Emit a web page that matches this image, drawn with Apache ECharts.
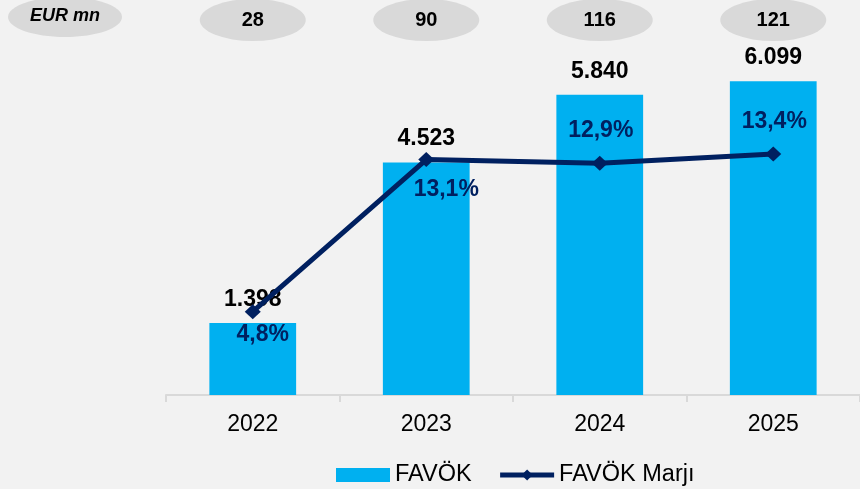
<!DOCTYPE html>
<html>
<head>
<meta charset="utf-8">
<script src="https://cdn.jsdelivr.net/npm/echarts@6/dist/echarts.min.js"></script>
<style>
  html, body { margin: 0; padding: 0; background: #f2f2f2; }
  #chart { width: 860px; height: 489px; }
</style>
</head>
<body>
<div id="chart"></div>
<script>
const categories = ['2022', '2023', '2024', '2025'];
const favok = [1398, 4523, 5840, 6099];
const favokMargin = [4.8, 13.1, 12.9, 13.4];
const topValues = [28, 90, 116, 121];
const unitLabel = 'EUR mn';
const seriesNames = ['FAVÖK', 'FAVÖK Marjı'];

const FONT = '"Liberation Sans", Arial, sans-serif';
const fmtThousands = n => String(n).replace(/\B(?=(\d{3})+(?!\d))/g, '.');
const fmtPct = v => v.toFixed(1).replace('.', ',') + '%';

// label placement styles for the margin labels
const pctOffsets = [[10, 23], [20, 30], [1, -33], [1, -32]];

const chart = echarts.init(document.getElementById('chart'), null, { renderer: 'canvas' });

const option = {
  backgroundColor: '#f2f2f2',
  animation: false,
  textStyle: { fontFamily: FONT },
  grid: [
    { left: 166, right: -2, top: 35, bottom: 94 },
    { left: 166, right: -2, top: 0, height: 40 }
  ],
  xAxis: [
    {
      type: 'category', gridIndex: 0, data: categories,
      axisLine: { lineStyle: { color: '#d9d9d9', width: 2 } },
      axisTick: { show: true, length: 7, lineStyle: { color: '#d9d9d9', width: 2 } },
      axisLabel: { color: '#000', fontSize: 23, fontFamily: FONT, margin: 18 }
    },
    { type: 'category', gridIndex: 1, data: categories, show: false }
  ],
  yAxis: [
    { type: 'value', gridIndex: 0, min: 0, max: 7000, show: false, splitLine: { show: false } },
    { type: 'value', gridIndex: 0, min: 0.25, max: 19.9, show: false, splitLine: { show: false } },
    { type: 'category', gridIndex: 1, data: [unitLabel], show: false }
  ],
  legend: {
    left: 336, top: 463, padding: 0,
    itemWidth: 54, itemHeight: 14, itemGap: 26,
    textStyle: { fontSize: 23.5, color: '#000', fontFamily: FONT },
    lineStyle: { width: 5, color: '#002060' },
    data: [{ name: seriesNames[0], icon: 'rect' }, { name: seriesNames[1] }]
  },
  graphic: [
    {
      type: 'ellipse',
      shape: { cx: 65, cy: 17, rx: 57, ry: 20 },
      style: { fill: '#d9d9d9' },
      silent: true
    },
    {
      type: 'text',
      x: 65, y: 16,
      style: {
        text: unitLabel, fill: '#000',
        font: 'italic bold 18px ' + FONT,
        align: 'center', verticalAlign: 'middle'
      },
      silent: true
    }
  ],
  series: [
    {
      name: seriesNames[0],
      type: 'bar',
      xAxisIndex: 0, yAxisIndex: 0,
      data: favok,
      barWidth: '50%',
      itemStyle: { color: '#00b0f0' },
      label: {
        show: true, position: 'top', distance: 12,
        color: '#000', fontSize: 23, fontWeight: 'bold', fontFamily: FONT,
        formatter: p => fmtThousands(p.value)
      }
    },
    {
      name: seriesNames[1],
      type: 'line',
      xAxisIndex: 0, yAxisIndex: 1,
      data: favokMargin.map((v, i) => ({
        value: v,
        label: { offset: pctOffsets[i] }
      })),
      lineStyle: { color: '#002060', width: 5 },
      itemStyle: { color: '#002060' },
      symbol: 'diamond',
      symbolSize: [16, 15],
      z: 5,
      label: {
        show: true, position: 'inside',
        align: 'center', verticalAlign: 'middle',
        color: '#002060', fontSize: 23, fontWeight: 'bold', fontFamily: FONT,
        formatter: p => fmtPct(p.value)
      }
    },
    {
      name: 'top',
      type: 'scatter',
      xAxisIndex: 1, yAxisIndex: 2,
      data: categories.map((c, i) => [c, unitLabel, topValues[i]]),
      encode: { x: 0, y: 1 },
      symbol: 'path://M0 50 A50 50 0 1 0 100 50 A50 50 0 1 0 0 50 Z',
      symbolSize: [106, 42],
      itemStyle: { color: '#d9d9d9', opacity: 1 },
      silent: true,
      label: {
        show: true, position: 'inside',
        color: '#000', fontSize: 20, fontWeight: 'bold', fontFamily: FONT,
        formatter: p => String(p.value[2])
      }
    }
  ]
};

chart.setOption(option);
</script>
</body>
</html>
